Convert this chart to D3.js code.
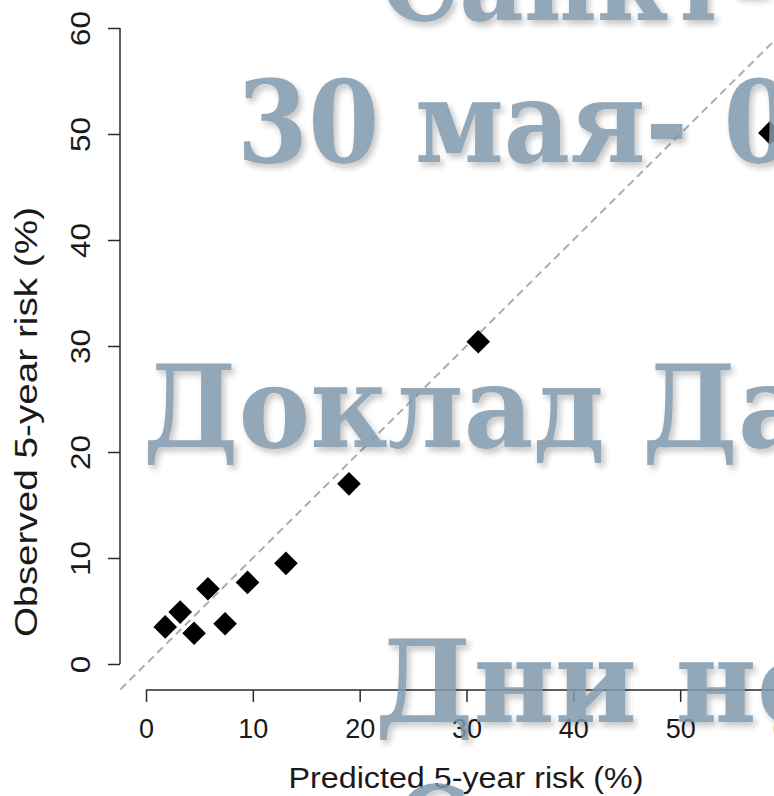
<!DOCTYPE html>
<html>
<head>
<meta charset="utf-8">
<script src="https://cdn.jsdelivr.net/npm/d3@7"></script>
<style>
  body { margin: 0; background: #fff; }
  svg { display: block; }
</style>
</head>
<body>
<svg></svg>
<script>
// predicted vs observed 5-year risk (%), one entry per risk group
let predicted = [1.8, 3.2, 4.5, 5.8, 7.4, 9.5, 13.1, 19.0, 31.1, 58.4];
let observed  = [3.5, 4.9, 2.9, 7.1, 3.8, 7.7, 9.5, 17.0, 30.4, 50.1];

let xTicks = [0, 10, 20, 30, 40, 50, 60];
let yTicks = [0, 10, 20, 30, 40, 50, 60];

let xTitle = 'Predicted 5-year risk (%)';
let yTitle = 'Observed 5-year risk (%)';

// slide text lying over the picture
let overlayLines = ['Санкт-Петербург', '30 мая- 02 июня', 'Доклад Данилова', 'Дни неврологии', 'С'];
let overlayRefs  = ['Санкт-', '30 мая- ', 'Доклад ', 'Дни ', 'С'];

let width = 774;
let height = 796;

let svg = d3.select('svg')
    .attr('width', width)
    .attr('height', height);

let values = predicted.map((p, i) => [p, observed[i]]);

let xScale, yScale;

let makeScales = () => {
    xScale = d3.scaleLinear()
        .domain([0, 60])
        .range([146, 787]);
    yScale = d3.scaleLinear()
        .domain([0, 60])
        .range([664, 28]);
}

let drawAxes = () => {
    let xAxis = d3.axisBottom(xScale)
        .tickValues(xTicks)
        .tickSize(12)
        .tickPadding(0)
        .tickFormat(d3.format('d'));
    let yAxis = d3.axisLeft(yScale)
        .tickValues(yTicks)
        .tickSize(12)
        .tickPadding(0)
        .tickFormat(d3.format('d'));

    let gx = svg.append('g')
        .attr('id', 'x-axis')
        .attr('transform', 'translate(0, 690)')
        .call(xAxis);
    gx.select('.domain').attr('d', 'M' + xScale(0) + ',0H' + (xScale(60) + 5));
    gx.selectAll('line, .domain').attr('stroke', '#2b2b2b').attr('stroke-width', 1.5);
    gx.selectAll('text')
        .attr('y', 48)
        .attr('dy', null)
        .attr('fill', '#1a1a1a')
        .style('font', '27px "Liberation Sans", Arial, sans-serif');

    let gy = svg.append('g')
        .attr('id', 'y-axis')
        .attr('transform', 'translate(120, 0)')
        .call(yAxis);
    gy.select('.domain').attr('d', 'M0,' + yScale(0) + 'V' + yScale(60));
    gy.selectAll('line, .domain').attr('stroke', '#2b2b2b').attr('stroke-width', 1.5);
    gy.selectAll('.tick text')
        .attr('x', null)
        .attr('dy', null)
        .attr('transform', 'translate(-30, 0) rotate(-90)')
        .attr('text-anchor', 'middle')
        .attr('textLength', (d) => String(d).length * 17.5)
        .attr('lengthAdjust', 'spacingAndGlyphs')
        .attr('fill', '#1a1a1a')
        .style('font', '27px "Liberation Sans", Arial, sans-serif');

    svg.append('text')
        .attr('x', 466)
        .attr('y', 788)
        .attr('text-anchor', 'middle')
        .attr('textLength', 355)
        .attr('lengthAdjust', 'spacingAndGlyphs')
        .attr('fill', '#1a1a1a')
        .style('font', '30px "Liberation Sans", Arial, sans-serif')
        .text(xTitle);

    svg.append('text')
        .attr('transform', 'translate(37, 422) rotate(-90)')
        .attr('text-anchor', 'middle')
        .attr('textLength', 430)
        .attr('lengthAdjust', 'spacingAndGlyphs')
        .attr('fill', '#1a1a1a')
        .style('font', '31px "Liberation Sans", Arial, sans-serif')
        .text(yTitle);
}

let drawPoints = () => {
    // diagonal of perfect calibration across the whole plot region
    svg.append('line')
        .attr('x1', xScale(-2.4))
        .attr('y1', yScale(-2.4))
        .attr('x2', xScale(62.4))
        .attr('y2', yScale(62.4))
        .attr('stroke', '#adadad')
        .attr('stroke-width', 2)
        .attr('stroke-dasharray', '8,5');

    let diamond = d3.symbol(d3.symbolSquare, 280);
    svg.selectAll('.pt')
        .data(values)
        .enter()
        .append('path')
        .attr('class', 'pt')
        .attr('d', diamond)
        .attr('transform', (d) => 'translate(' + xScale(d[0]) + ',' + yScale(d[1]) + ') rotate(45)')
        .attr('fill', '#000');
}

let drawOverlay = () => {
    let defs = svg.append('defs');
    let f = defs.append('filter')
        .attr('id', 'shadow')
        .attr('x', '-10%').attr('y', '-10%')
        .attr('width', '130%').attr('height', '130%');
    f.append('feDropShadow')
        .attr('dx', 3).attr('dy', 4)
        .attr('stdDeviation', 3)
        .attr('flood-color', '#000')
        .attr('flood-opacity', 0.28);

    // where each line starts, its baseline and the width of its reference part
    let starts = [380, 237, 143, 375, 395];
    let baselines = [20, 162, 447, 722, 868];
    let refWidths = [392, 451, 462, 262, 75];

    let g = svg.append('g')
        .attr('filter', 'url(#shadow)')
        .attr('opacity', 0.86);

    overlayLines.forEach((line, i) => {
        let t = g.append('text')
            .attr('fill', '#8199ad')
            .style('font', 'bold 115px "DejaVu Serif", serif')
            .text(overlayRefs[i]);
        let w = t.node().getComputedTextLength();
        let sx = refWidths[i] / w;
        t.text(line)
            .attr('transform', 'translate(' + starts[i] + ',' + baselines[i] + ') scale(' + sx + ',1)');
    });
}

makeScales();
drawAxes();
drawPoints();
drawOverlay();
</script>
</body>
</html>
